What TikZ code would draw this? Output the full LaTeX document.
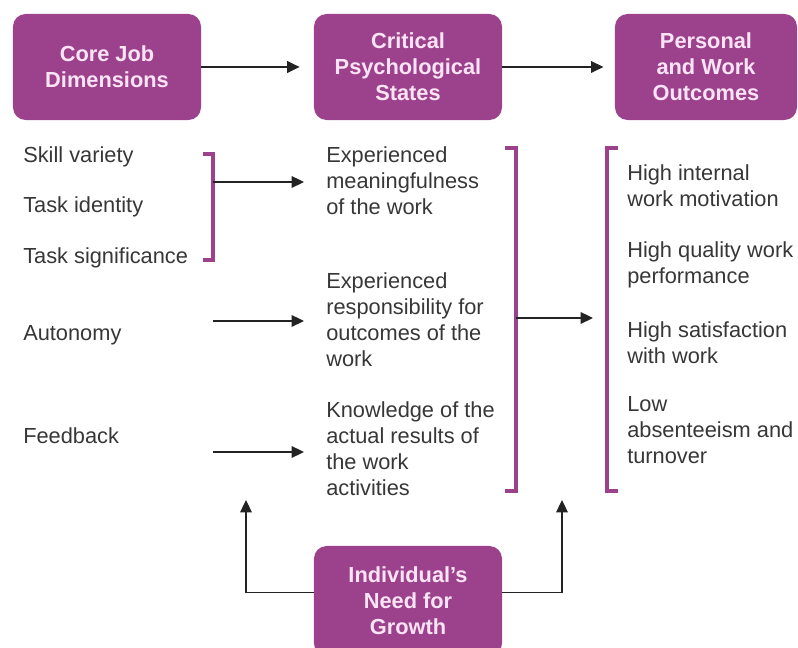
\documentclass[tikz,border=0pt]{standalone}
\usepackage{fontspec}
\setmainfont{Liberation Sans}
\usepackage{tikz}
\usetikzlibrary{arrows.meta,positioning,calc}
\definecolor{stagecolor}{RGB}{156,66,140}
\definecolor{stagetext}{RGB}{252,228,246}
\definecolor{arrowcolor}{RGB}{35,35,35}
\definecolor{itemcolor}{RGB}{55,55,55}

\begin{document}
\begin{tikzpicture}[
    x=0.025cm, y=-0.025cm,
    stage/.style={fill=stagecolor, rounded corners=9pt, minimum width=4.7cm, minimum height=2.65cm, inner sep=0pt, text=stagetext, font=\fontsize{15.5}{18.5}\selectfont\bfseries, align=center},
    item/.style={anchor=west, inner sep=0pt, text=itemcolor, font=\fontsize{15.5}{18.5}\selectfont, align=left},
    arrow/.style={-{Triangle[length=3.1mm, width=2.9mm]}, line width=1.1pt, arrowcolor},
    bracket/.style={draw=stagecolor, line width=2.6pt}
]
\useasboundingbox (0,0) rectangle (798,648);

% Stages
\node[stage] (core) at (107,67) {Core Job\\Dimensions};
\node[stage] (crit) at (408,67) {Critical\\Psychological\\States};
\node[stage, minimum width=4.55cm] (outc) at (706,67) {Personal\\and Work\\Outcomes};
\node[stage, minimum height=2.75cm] (growth) at (408,601) {Individual's\\Need for\\Growth};

% Core job dimensions
\node[item] (skill) at (23,157) {Skill variety};
\node[item] (ident) at (23,207) {Task identity};
\node[item] (signif) at (23,258) {Task significance};
\node[item] (auton) at (23,335) {Autonomy};
\node[item] (feedb) at (23,436) {Feedback};

% Psychological states
\node[item] (mean) at (326,181) {Experienced\\meaningfulness\\of the work};
\node[item] (resp) at (326,320) {Experienced\\responsibility for\\outcomes of the\\work};
\node[item] (know) at (326,449) {Knowledge of the\\actual results of\\the work\\activities};

% Outcomes
\node[item] (motiv) at (627,186) {High internal\\work motivation};
\node[item] (perf) at (627,265) {High quality work\\performance};
\node[item] (satis) at (627,343) {High satisfaction\\with work};
\node[item] (absent) at (627,430) {Low\\absenteeism and\\turnover};

% Brackets
\draw[bracket] (203,154) -- (213,154) -- (213,260) -- (203,260);
\draw[bracket] (505,148) -- (516,148) -- (516,491) -- (505,491);
\draw[bracket] (618,148) -- (607,148) -- (607,491) -- (618,491);

% Connector ends
\coordinate (b1) at (213,182);
\coordinate (b1tip) at (304,182);
\coordinate (autstart) at (213,321);
\coordinate (auttip) at (304,321);
\coordinate (fbstart) at (213,452);
\coordinate (fbtip) at (304,452);
\coordinate (b2) at (516,318);
\coordinate (b2tip) at (593,318);
\coordinate (growl) at (246,500);
\coordinate (growr) at (562,500);

% Arrows
\draw[arrow, shorten >=10pt] (core) -- (crit);
\draw[arrow, shorten >=8pt] (crit) -- (outc);
\draw[arrow] (b1) -- (b1tip);
\draw[arrow] (autstart) -- (auttip);
\draw[arrow] (fbstart) -- (fbtip);
\draw[arrow] (b2) -- (b2tip);
\draw[arrow] ([yshift=6pt]growth.west) -| (growl);
\draw[arrow] ([yshift=6pt]growth.east) -| (growr);
\end{tikzpicture}
\end{document}
